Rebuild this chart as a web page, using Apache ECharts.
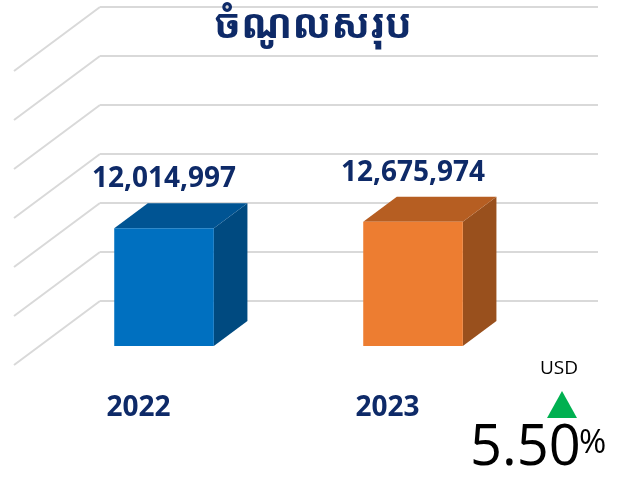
<!DOCTYPE html>
<html>
<head>
<meta charset="utf-8">
<script src="https://cdn.jsdelivr.net/npm/echarts@6/dist/echarts.min.js"></script>
<style>
  html, body { margin: 0; padding: 0; background: #fff; }
  #main { width: 624px; height: 483px; }
</style>
</head>
<body>
<div id="main"></div>
<script>
// data
let years = ['2022', '2023'];
let revenue = [12014997, 12675974];
let barColors = [
    ['#0070c0', '#005493', '#004a80'],   // front, top, side
    ['#ed7d31', '#b65e22', '#99501d']
];
let ticks = [0, 5000000, 10000000, 15000000, 20000000, 25000000, 30000000];
let unit = 'USD';
let growth = '5.50';

// perspective offset of the floor (back wall -> front edge)
const DX = -86, DY = 64;
const BACK = 20 / 64, FRONT = 45 / 64;
const NAVY = '#0e2a68';

let myChart = echarts.init(document.getElementById('main'));

myChart.setOption({
    animation: false,
    title: {
        text: 'ចំណូលសរុប',
        left: 308,
        textAlign: 'center',
        top: 2,
        textStyle: {
            color: NAVY,
            fontSize: 40,
            fontWeight: 'bold',
            fontFamily: '"Noto Sans Khmer", "Khmer OS Muol Light", "Noto Serif Khmer", sans-serif'
        }
    },
    grid: { left: 100, right: 26, top: 7, bottom: 182 },
    xAxis: {
        type: 'category',
        data: years,
        axisLine: { show: false },
        axisTick: { show: false },
        axisLabel: { show: false }
    },
    yAxis: {
        type: 'value',
        min: 0,
        max: 30000000,
        interval: 5000000,
        axisLine: { show: false },
        axisTick: { show: false },
        axisLabel: { show: false },
        splitLine: { lineStyle: { color: '#d9d9d9', width: 2 } }
    },
    series: [
        {
            // side wall lines going to the front
            type: 'custom',
            silent: true,
            data: ticks.map(t => [0, t]),
            encode: { x: 0, y: 1 },
            renderItem: function (params, api) {
                let cs = params.coordSys;
                let y = api.coord([0, api.value(1)])[1];
                return {
                    type: 'line',
                    shape: { x1: cs.x, y1: y, x2: cs.x + DX, y2: y + DY },
                    style: { stroke: '#d9d9d9', lineWidth: 2 }
                };
            }
        },
        {
            type: 'custom',
            data: revenue.map((v, i) => [i, v]),
            encode: { x: 0, y: 1 },
            renderItem: function (params, api) {
                let i = api.value(0);
                let base = api.coord([i, 0]);
                let top = api.coord([i, api.value(1)]);
                let w = api.size([1, 0])[0] * 0.4;
                let col = barColors[i];
                let fx = base[0] + DX * FRONT, fyB = base[1] + DY * FRONT, fyT = top[1] + DY * FRONT;
                let bx = base[0] + DX * BACK, byB = base[1] + DY * BACK, byT = top[1] + DY * BACK;
                let l = w / 2;
                return {
                    type: 'group',
                    children: [
                        {
                            type: 'polygon',
                            shape: { points: [[fx + l, fyT], [bx + l, byT], [bx + l, byB], [fx + l, fyB]] },
                            style: { fill: col[2] }
                        },
                        {
                            type: 'polygon',
                            shape: { points: [[fx - l, fyT], [fx + l, fyT], [bx + l, byT], [bx - l, byT]] },
                            style: { fill: col[1] }
                        },
                        {
                            type: 'rect',
                            shape: { x: fx - l, y: fyT, width: w, height: fyB - fyT },
                            style: { fill: col[0] }
                        },
                        {
                            type: 'text',
                            style: {
                                x: fx, y: fyT - 49,
                                text: echarts.format.addCommas(api.value(1)),
                                align: 'center', verticalAlign: 'middle',
                                fill: NAVY,
                                font: 'bold 28px "Open Sans", sans-serif'
                            }
                        },
                        {
                            type: 'text',
                            style: {
                                x: base[0] + DX, y: base[1] + DY + 43,
                                text: years[i],
                                align: 'center', verticalAlign: 'middle',
                                fill: NAVY,
                                font: 'bold 28px "Open Sans", sans-serif'
                            }
                        }
                    ]
                };
            }
        }
    ],
    graphic: [
        {
            type: 'text',
            left: 540, top: 359,
            style: { text: unit, fill: '#000', font: '19px "Open Sans", sans-serif' }
        },
        {
            type: 'polygon',
            shape: { points: [[547, 418], [577, 418], [562, 391]] },
            style: { fill: '#00b050' }
        },
        {
            type: 'text',
            left: 470, top: 421,
            style: { text: growth, fill: '#000', font: '56px "Open Sans", sans-serif' }
        },
        {
            type: 'text',
            left: 579, top: 427,
            style: { text: '%', fill: '#000', font: '33px "Open Sans", sans-serif' }
        }
    ]
});
</script>
</body>
</html>
